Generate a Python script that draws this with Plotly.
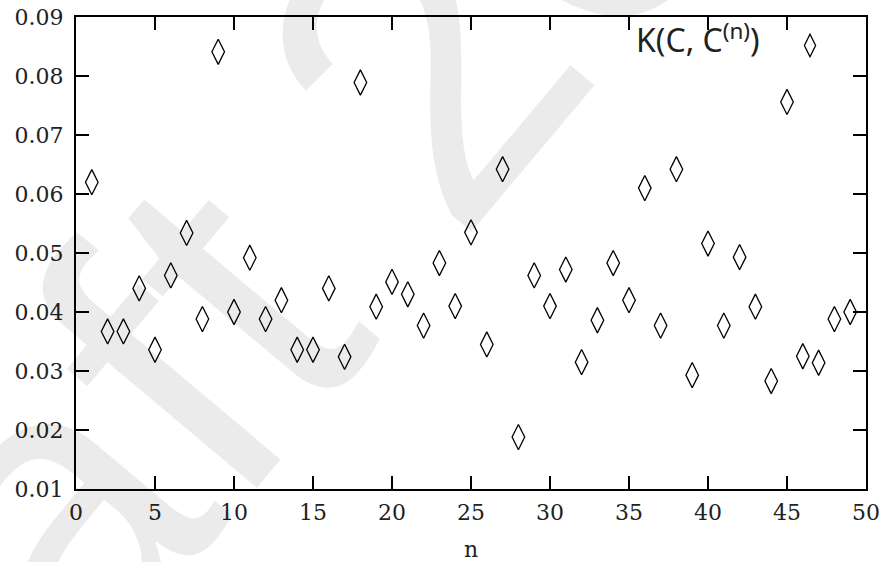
import plotly.graph_objects as go

n_values = list(range(1, 50))
k_values = [0.0620, 0.0367, 0.0367, 0.0440, 0.0336, 0.0462, 0.0534, 0.0388, 0.0841, 0.0400,
            0.0492, 0.0388, 0.0420, 0.0336, 0.0336, 0.0440, 0.0324, 0.0789, 0.0409, 0.0451,
            0.0430, 0.0377, 0.0483, 0.0410, 0.0535, 0.0345, 0.0642, 0.0188, 0.0462, 0.0410,
            0.0472, 0.0315, 0.0386, 0.0483, 0.0420, 0.0610, 0.0377, 0.0642, 0.0293, 0.0516,
            0.0377, 0.0493, 0.0409, 0.0283, 0.0756, 0.0325, 0.0314, 0.0388, 0.0400]
x_ticks = [0, 5, 10, 15, 20, 25, 30, 35, 40, 45, 50]
y_ticks = [0.01, 0.02, 0.03, 0.04, 0.05, 0.06, 0.07, 0.08, 0.09]
y_tick_labels = ["0.01", "0.02", "0.03", "0.04", "0.05", "0.06", "0.07", "0.08", "0.09"]

W, H = 888, 562
PL, PR, PT, PB = 76, 866, 17, 489          # plot area in page pixels
L, R, T, B = PL, W - PR, PT, H - PB
pw, ph = PR - PL, PB - PT

SERIF = "DejaVu Serif"
tick_font = dict(family=SERIF, size=22, color="#222")

fig = go.Figure()
fig.add_trace(go.Scatter(
    x=n_values, y=k_values, mode="markers", name=" ",
    marker=dict(symbol="diamond-tall-open", size=18, color="black", line=dict(width=1.3, color="black")),
    showlegend=True,
))

axis_common = dict(
    showline=True, linecolor="black", linewidth=2, mirror="ticks",
    ticks="inside", ticklen=13, tickwidth=2, tickcolor="black",
    showgrid=False, zeroline=False, tickfont=tick_font, automargin=False,
    ticklabeloverflow="allow",
)

fig.update_xaxes(range=[0, 50], tickvals=x_ticks, ticklabelstandoff=3,
                 title=dict(text="n", font=tick_font, standoff=18),
                 **axis_common)
fig.update_yaxes(range=[0.01, 0.09], tickvals=y_ticks, ticktext=y_tick_labels, ticklabelstandoff=6,
                 **axis_common)

fig.add_annotation(
    text="Draft 2012", xref="paper", yref="paper", x=(316 - PL) / pw, y=(PB - 190) / ph,
    xanchor="center", yanchor="middle",
    showarrow=False, textangle=-50,
    font=dict(family="Liberation Sans", size=420, color="rgba(0,0,0,0.08)"),
)
fig.add_annotation(
    text="K(C, C<sup>(n)</sup>)", xref="paper", yref="paper",
    x=(762 - PL) / pw, y=1 - (38 - PT) / ph, xanchor="right", yanchor="middle",
    showarrow=False, font=dict(family="Noto Sans", size=32, color="#222"),
)

fig.update_layout(
    width=W, height=H, margin=dict(l=L, r=R, t=T, b=B, autoexpand=False),
    paper_bgcolor="white", plot_bgcolor="white",
    legend=dict(x=(790 - PL) / pw, y=1 + (PT - 31) / ph, xanchor="left", yanchor="top",
                bgcolor="rgba(0,0,0,0)", font=dict(size=10), itemwidth=30),
)

fig.write_html(
    "out.html",
    config={"displayModeBar": False},
    post_script="document.body.style.margin='0';document.body.style.overflow='hidden';",
)
